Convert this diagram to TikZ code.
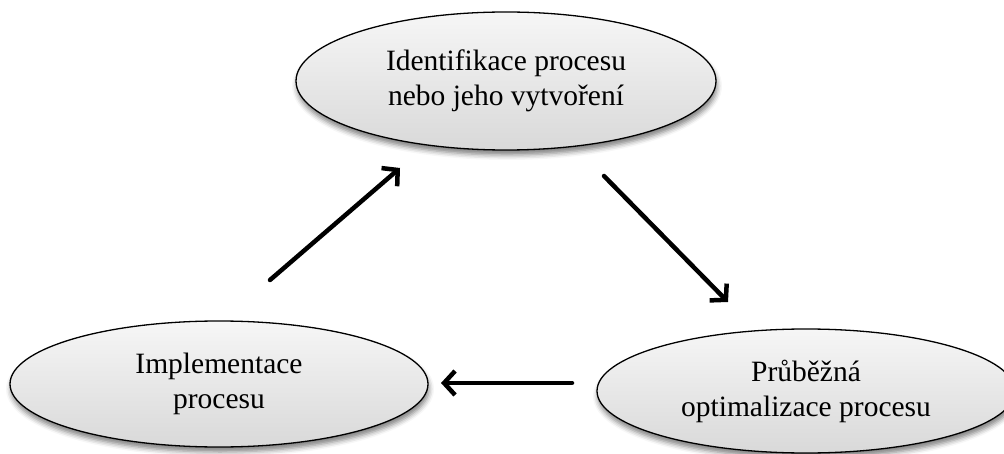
\documentclass[tikz,border=0pt]{standalone}
\usepackage{fontspec}
\setmainfont{Liberation Serif}
\usetikzlibrary{shapes.geometric,arrows.meta,shadows.blur}
\begin{document}
\begin{tikzpicture}[x=1pt,y=-1pt,
  stage/.style={ellipse, draw=black, line width=1.3pt, inner sep=0pt,
    top color=gray!7, bottom color=gray!30,
    blur shadow={shadow xshift=1pt, shadow yshift=-5pt, shadow blur radius=5pt, shadow opacity=50},
    align=center, font=\fontsize{29.5}{35}\selectfont},
  flow/.style={line width=4.5pt, line cap=round, line join=round,
    -{Straight Barb[length=11pt,width=24pt,line width=4.5pt]}}]
\useasboundingbox (0,0) rectangle (1004,454);
\node[stage, minimum width=420pt, minimum height=138pt] (ident) at (506,81)
  {Identifikace procesu\\nebo jeho vytvoření};
\node[stage, minimum width=418pt, minimum height=126pt] (impl) at (219,384)
  {Implementace\\procesu};
\node[stage, minimum width=418pt, minimum height=124pt] (opt) at (806,391)
  {Průběžná\\optimalizace procesu};
\coordinate (a1s) at (270,280);
\coordinate (a1e) at (400,168);
\coordinate (a2s) at (604,176);
\coordinate (a2e) at (728,302);
\coordinate (a3s) at (572,383);
\coordinate (a3e) at (441,383);
\draw[flow] (a1s) -- (a1e);
\draw[flow] (a2s) -- (a2e);
\draw[flow] (a3s) -- (a3e);
\end{tikzpicture}
\end{document}
